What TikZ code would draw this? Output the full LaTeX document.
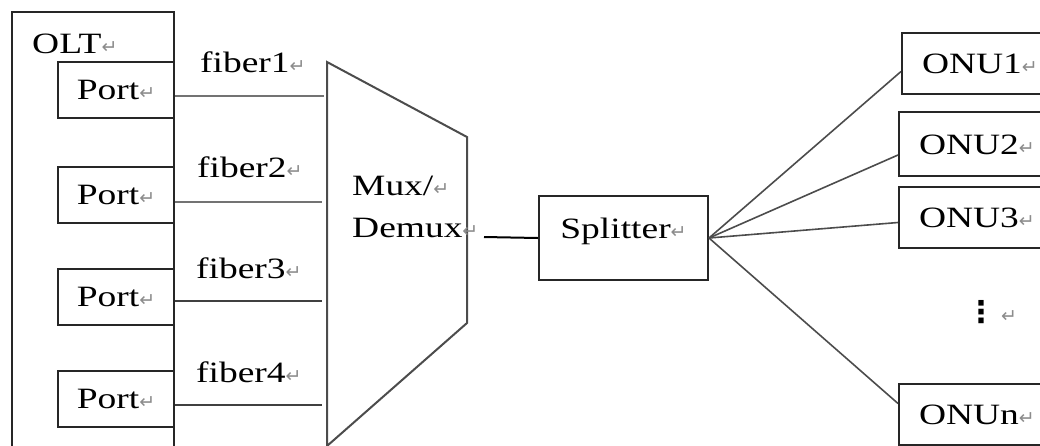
\documentclass[tikz,border=0pt]{standalone}
\usepackage{fontspec}
\setmainfont{Liberation Serif}[FakeStretch=1.27]
\newfontfamily\dejavu{DejaVu Sans}
% 段落标记
\newcommand{\retmark}{{\dejavu\fontsize{19}{19}\selectfont\textcolor{black!45}{↵}}}

\begin{document}
\begin{tikzpicture}[x=1pt, y=-1pt,
    font=\fontsize{29.5}{34}\selectfont,
    box/.style={draw=black!85, line width=2pt, inner sep=0pt},
    onubox/.style={box, anchor=north west, minimum width=180pt, text width=140pt,
        inner xsep=20pt, align=left, text height=20pt, text depth=0pt},
    portbox/.style={box, anchor=north west, minimum width=116pt, minimum height=56pt},
    lbl/.style={inner sep=0pt, anchor=base west},
    link/.style={draw=black!55, line width=2pt},
    fan/.style={draw=black!70, line width=1.6pt}]

    \useasboundingbox (0,0) rectangle (1040,445);
    \clip (0,0) rectangle (1040,445);

    % 绘制 OLT 外框
    \node[box, anchor=north west, minimum width=162pt, minimum height=470pt] (olt) at (11,11) {};
    \node[lbl] (oltlabel) at (32,53) {OLT\retmark};

    % 绘制四个端口
    \node[portbox] (port1) at (57,61) {Port\retmark};
    \node[portbox] (port2) at (57,166) {Port\retmark};
    \node[portbox] (port3) at (57,268) {Port\retmark};
    \node[portbox] (port4) at (57,370) {Port\retmark};

    % 绘制 Mux/Demux 梯形
    \coordinate (muxtl) at (327,62);
    \coordinate (muxtr) at (467,137);
    \coordinate (muxbr) at (467,323);
    \coordinate (muxbl) at (327,446);
    \draw[draw=black!70, line width=2pt] (muxtl) -- (muxtr) -- (muxbr) -- (muxbl) -- cycle;
    \node[lbl] (muxlabel) at (352,195) {Mux/\retmark};
    \node[lbl] (demuxlabel) at (352,237) {Demux\retmark};

    % 光纤连线
    \coordinate (f1) at (324,96);
    \coordinate (f2) at (322,202);
    \coordinate (f3) at (322,301);
    \coordinate (f4) at (322,405);
    \draw[link] (port1.east |- f1) -- (f1);
    \draw[link] (port2.east |- f2) -- (f2);
    \draw[link, draw=black!75, line width=1.6pt] (port3.east |- f3) -- (f3);
    \draw[link, draw=black!75, line width=1.6pt] (port4.east |- f4) -- (f4);
    \node[lbl] (fiber1) at (200,72) {fiber1\retmark};
    \node[lbl] (fiber2) at (197,177) {fiber2\retmark};
    \node[lbl] (fiber3) at (196,278) {fiber3\retmark};
    \node[lbl] (fiber4) at (196,382) {fiber4\retmark};

    % 分光器
    \node[box, anchor=north west, minimum width=169pt, minimum height=84pt,
        text height=11pt, text depth=11pt] (splitter) at (538,195) {Splitter\retmark};
    \coordinate (muxout) at (484,237);
    \draw[line width=2pt] (muxout) -- (splitter.west);

    % ONU
    \node[onubox, minimum height=61pt] (onu1) at (901,32) {ONU1\retmark};
    \node[onubox, minimum height=64pt] (onu2) at (898,111) {ONU2\retmark};
    \node[onubox, minimum height=61pt] (onu3) at (898,186) {ONU3\retmark};
    \node[onubox, minimum height=61pt] (onun) at (898,383) {ONUn\retmark};
    \node[lbl, anchor=west] (vdots) at (966,312) {{\dejavu\bfseries\fontsize{30}{30}\selectfont ⋮}\,\retmark};

    % 分光器到 ONU 的连线
    \draw[fan] (splitter.east) -- ([yshift=-8pt]onu1.west);
    \draw[fan] (splitter.east) -- ([yshift=-11pt]onu2.west);
    \draw[fan] (splitter.east) -- ([yshift=-5pt]onu3.west);
    \draw[fan] (splitter.east) -- ([yshift=11pt]onun.west);

\end{tikzpicture}
\end{document}
